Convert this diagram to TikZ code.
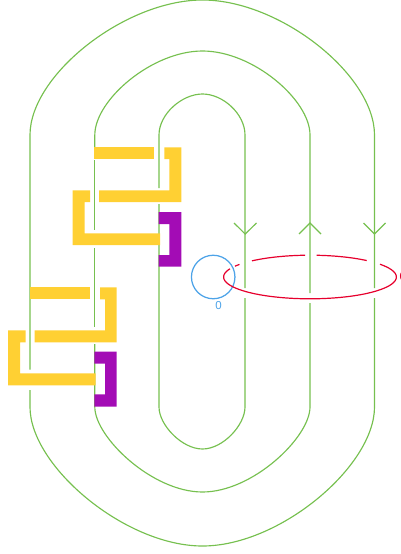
\documentclass[tikz,border=0pt]{standalone}
\usepackage{fontspec}
\setmainfont{Liberation Sans}
\definecolor{gr}{HTML}{76C04F}
\definecolor{ye}{HTML}{FFD033}
\definecolor{pu}{HTML}{A30CB5}
\definecolor{re}{HTML}{E6002D}
\definecolor{bl}{HTML}{4DA3E8}
\tikzset{strand/.style={draw=gr,line width=1.15pt},
 chev/.style={draw=gr,line width=1.15pt},
 bandy/.style={fill=ye,draw=none},
 bandp/.style={fill=pu,draw=none},
 redc/.style={draw=re,line width=1.2pt},
 bluec/.style={draw=bl,line width=1.25pt}}
\begin{document}
\begin{tikzpicture}[x=1pt,y=-1pt]
\useasboundingbox (0,0) rectangle (401,554);
\clip (0,0) rectangle (401,554);
% outer
\draw[strand] (30,369.7) -- (30,135) .. controls (30,75) and (125,0) .. (202.5,0) .. controls (280,0) and (374.5,75) .. (374.5,135) -- (374.5,288);
\draw[strand] (374.5,298) -- (374.5,407) .. controls (374.5,466) and (280,546) .. (202.5,546) .. controls (125,546) and (30,466) .. (30,407) -- (30,390);
% middle
\draw[strand] (94.8,147) -- (94.8,135) .. controls (94.8,100) and (152,51) .. (202.5,51) .. controls (253,51) and (310,100) .. (310,135) -- (310,293);
\draw[strand] (310,303) -- (310,407) .. controls (310,437) and (253,492) .. (202.5,492) .. controls (152,492) and (94.8,437) .. (94.8,407) -- (94.8,344);
\draw[strand] (94.8,160) -- (94.8,230);
\draw[strand] (94.8,248) -- (94.8,327);
% inner
\draw[strand] (159,188) -- (159,135) .. controls (159,114) and (182,94) .. (202.5,94) .. controls (223,94) and (245,114) .. (245,135) -- (245,288);
\draw[strand] (245,298) -- (245,407) .. controls (245,425) and (223,449) .. (202.5,449) .. controls (182,449) and (159,425) .. (159,407) -- (159,204);
% arrowheads
\draw[chev] (234,223) -- (245.2,234) -- (256.5,223);
\draw[chev] (299,234) -- (310,223) -- (321,234);
\draw[chev] (363.5,223) -- (374.5,234) -- (385.5,223);
% upper band
\path[bandy] (94,147.3) rectangle (154.3,159);
\path[bandy] (164.3,147.3) -- (181.3,147.3) -- (181.3,202) -- (99,202) -- (99,190.3) -- (169.3,190.3) -- (169.3,159) -- (164.3,159) -- cycle;
\path[bandy] (90,190.3) -- (72.7,190.3) -- (72.7,245) -- (160,245) -- (160,233.3) -- (84.7,233.3) -- (84.7,202) -- (90,202) -- cycle;
\path[bandp] (158.7,212) -- (181.3,212) -- (181.3,266.7) -- (158.7,266.7) -- (158.7,255) -- (169.3,255) -- (169.3,224) -- (158.7,224) -- cycle;
% lower band
\path[bandy] (29.5,287.3) rectangle (90,299.3);
\path[bandy] (100,287.3) -- (116.7,287.3) -- (116.7,342.3) -- (34.7,342.3) -- (34.7,330.3) -- (105,330.3) -- (105,299.3) -- (100,299.3) -- cycle;
\path[bandy] (25.7,330.3) -- (8,330.3) -- (8,385.3) -- (95.7,385.3) -- (95.7,373.3) -- (20,373.3) -- (20,342.3) -- (25.7,342.3) -- cycle;
\path[bandp] (94.3,351.7) -- (116.7,351.7) -- (116.7,406.7) -- (94.3,406.7) -- (94.3,394.3) -- (105,394.3) -- (105,363.7) -- (94.3,363.7) -- cycle;
% blue circle
\node[circle,bluec,minimum size=43.5pt,inner sep=0pt] (bc) at (213.2,277) {};
\node[text=bl,font=\fontsize{11.5}{13}\selectfont,inner sep=0pt] (bl0) at (218.5,305.5) {0};
% red
\def\redarc#1#2{\draw[redc] plot[domain=#1:#2,samples=60,smooth] ({310+86.4*cos(\x)},{277-21.8*sin(\x)});}
\redarc{35.9}{-202.2}
\redarc{144.7}{150.3}
\redarc{93.3}{132.2}
\redarc{49}{85.6}
\node[text=re,font=\fontsize{11.5}{13}\selectfont,inner sep=0pt,anchor=west] (rd0) at (399.3,277) {0};
\end{tikzpicture}
\end{document}
